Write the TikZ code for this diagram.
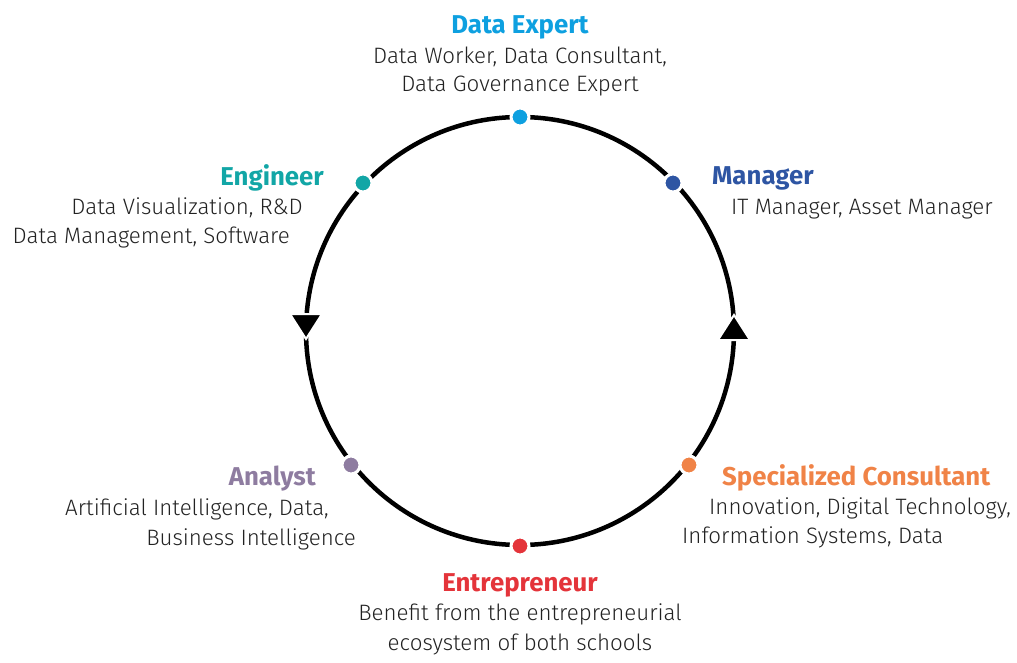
\documentclass[tikz,border=0pt]{standalone}
\usepackage{fontspec}
\setmainfont{Fira Sans}[UprightFont=* Light, BoldFont=* Bold]
\definecolor{expertblue}{HTML}{0EA0E0}
\definecolor{managerblue}{HTML}{2E55A3}
\definecolor{engineerteal}{HTML}{12A6A6}
\definecolor{analystgrey}{HTML}{8E7CA0}
\definecolor{consultorange}{HTML}{F08347}
\definecolor{entrered}{HTML}{E4343A}
\definecolor{bodytext}{HTML}{222222}
\tikzset{
  role/.style={font=\fontsize{25.8}{28}\selectfont\bfseries, inner sep=0pt, yshift=-3pt},
  detail/.style={font=\fontsize{22.3}{26}\selectfont, text=bodytext, inner sep=0pt, yshift=-3pt},
  spot/.style={circle, minimum size=18pt, inner sep=0pt, draw=white, line width=3pt},
  flowtip/.style={fill=black, draw=white, line width=2pt}
}
\begin{document}
\begin{tikzpicture}[x=1pt, y=-1pt]
\useasboundingbox (0,0) rectangle (1017,663);
% ring
\coordinate (hub) at (520,331);
\draw[line width=4.5pt] (hub) circle (214pt);
% direction marks
\filldraw[flowtip] (290,314) -- (322,314) -- (306,339) -- cycle;
\filldraw[flowtip] (718,340) -- (750,340) -- (734,315) -- cycle;
% points on the ring
\node[spot, fill=expertblue] (expert) at (520,117) {};
\node[spot, fill=managerblue] (manager) at (673,183) {};
\node[spot, fill=engineerteal] (engineer) at (363,183) {};
\node[spot, fill=analystgrey] (analyst) at (351,465) {};
\node[spot, fill=consultorange] (consultant) at (689,465) {};
\node[spot, fill=entrered] (entrepreneur) at (520,546) {};
% labels
\node[role, text=expertblue] (experttitle) at (520,24) {Data Expert};
\node[detail] (expertA) at (520,54) {Data Worker, Data Consultant,};
\node[detail] (expertB) at (520,83) {Data Governance Expert};

\node[role, text=managerblue, anchor=west] (managertitle) at (712,175) {Manager};
\node[detail, anchor=west] (managerA) at (731,206) {IT Manager, Asset Manager};

\node[role, text=engineerteal, anchor=east] (engineertitle) at (324,175) {Engineer};
\node[detail, anchor=east] (engineerA) at (303,205) {Data Visualization, R\&D};
\node[detail, anchor=east] (engineerB) at (290,235) {Data Management, Software};

\node[role, text=analystgrey, anchor=east] (analysttitle) at (316,476) {Analyst};
\node[detail, anchor=east] (analystA) at (329,506) {Artificial Intelligence, Data,};
\node[detail, anchor=east] (analystB) at (356,536) {Business Intelligence};

\node[role, text=consultorange, anchor=west] (consulttitle) at (722,475) {Specialized Consultant};
\node[detail, anchor=west] (consultA) at (709,505) {Innovation, Digital Technology,};
\node[detail, anchor=west] (consultB) at (682,534) {Information Systems, Data};

\node[role, text=entrered] (entretitle) at (520,582) {Entrepreneur};
\node[detail] (entreA) at (520,611) {Benefit from the entrepreneurial};
\node[detail] (entreB) at (520,641) {ecosystem of both schools};
\end{tikzpicture}
\end{document}
